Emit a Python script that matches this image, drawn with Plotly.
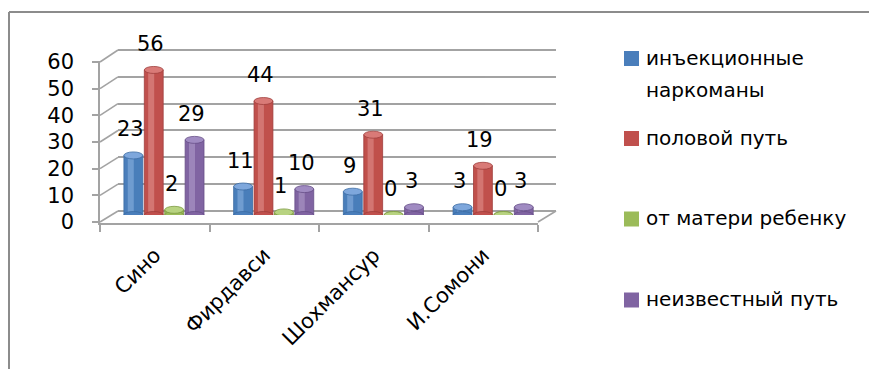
import plotly.graph_objects as go

# ---- data ----
districts = ["Сино", "Фирдавси", "Шохмансур", "И.Сомони"]
series_names = ["инъекционные наркоманы", "половой путь", "от матери ребенку", "неизвестный путь"]
injecting = [23, 11, 9, 3]
sexual = [56, 44, 31, 19]
mother_child = [2, 1, 0, 0]
unknown = [29, 10, 3, 3]
y_ticks = [0, 10, 20, 30, 40, 50, 60]

series_values = [injecting, sexual, mother_child, unknown]
body_colors = ["#4a7ebb", "#c0504d", "#9bbb59", "#8064a2"]
light_colors = ["#9dc0ea", "#eba3a1", "#cfe3a3", "#bfaed6"]
cap_colors = ["#7ea7dc", "#d97a77", "#b8d381", "#a08bc2"]
edge_colors = ["#3c6ca3", "#a03f3c", "#7f9c45", "#674f88"]

W, H = 869, 369
FONT = "DejaVu Sans"
GRID = "#a3a3a3"


def fx(x):
    return x / W


def fy(y):
    return 1 - y / H


def y_domain(px0, px60, lo, hi):
    """Vertical domain so that value 0 sits at px0 and 60 at px60 (pixels)."""
    k = (px0 - px60) / 60.0
    return [fy(px0 + (0 - lo) * k), fy(px60 - (hi - 60) * k)]


fig = go.Figure()

# back wall carrier (keeps the gridline subplot alive)
fig.add_trace(go.Scatter(x=[0.5], y=[30], mode="markers", marker=dict(opacity=0),
                         xaxis="x", yaxis="y", showlegend=False, hoverinfo="skip"))

# bars: body, then a narrow highlight strip to give a rounded look
centers = [(i - 1.5) * 0.186 for i in range(4)]
bar_w = 0.172
for i, vals in enumerate(series_values):
    fig.add_trace(go.Bar(
        x=districts, y=vals, name=series_names[i],
        offset=centers[i] - bar_w / 2, width=bar_w,
        marker=dict(color=body_colors[i], line=dict(color=edge_colors[i], width=0.8)),
        xaxis="x2", yaxis="y2", showlegend=False, hoverinfo="y",
    ))
for i, vals in enumerate(series_values):
    fig.add_trace(go.Bar(
        x=districts, y=vals,
        offset=centers[i] - bar_w / 2 + 0.035, width=0.055,
        marker=dict(color=light_colors[i], line=dict(width=0)), opacity=0.45,
        xaxis="x2", yaxis="y2", showlegend=False, hoverinfo="skip",
    ))

# front category axis carrier
fig.add_trace(go.Scatter(
    x=districts, y=[0] * len(districts), mode="markers",
    marker=dict(opacity=0), xaxis="x3", yaxis="y3",
    showlegend=False, hoverinfo="skip",
))

shapes = []
annotations = []

# cylinder caps (bottom and top ellipses)
for i, vals in enumerate(series_values):
    for j, v in enumerate(vals):
        x0 = j + centers[i] - bar_w / 2
        x1 = j + centers[i] + bar_w / 2
        shapes.append(dict(type="circle", xref="x2", yref="y2", x0=x0, x1=x1,
                           ysizemode="pixel", yanchor=0, y0=-3.5, y1=3.5,
                           fillcolor=body_colors[i], line=dict(color=edge_colors[i], width=0.8)))
        shapes.append(dict(type="circle", xref="x2", yref="y2", x0=x0, x1=x1,
                           ysizemode="pixel", yanchor=v, y0=-3.5, y1=3.5,
                           fillcolor=cap_colors[i], line=dict(color=edge_colors[i], width=0.8)))
        annotations.append(dict(x=j + centers[i], y=v, xref="x2", yref="y2",
                                text=str(v), showarrow=False, xshift=-3, yshift=26,
                                xanchor="center", yanchor="middle",
                                font=dict(family=FONT, size=21, color="#000000")))

# side wall edges joining the front value axis and the back wall
for t in y_ticks:
    front = 222 - t * 160 / 60
    back = 211 - t * 161 / 60
    shapes.append(dict(type="line", xref="paper", yref="paper",
                       x0=fx(100), y0=fy(front), x1=fx(118), y1=fy(back),
                       line=dict(color=GRID, width=1.6)))
# right floor edge
shapes.append(dict(type="line", xref="paper", yref="paper",
                   x0=fx(538), y0=fy(222), x1=fx(556), y1=fy(211),
                   line=dict(color=GRID, width=1.6)))

# outer frame (left and top)
shapes.append(dict(type="line", xref="paper", yref="paper",
                   x0=fx(9), y0=fy(12), x1=fx(9), y1=0,
                   line=dict(color="#8c8c8c", width=2)))
shapes.append(dict(type="line", xref="paper", yref="paper",
                   x0=fx(9), y0=fy(12), x1=1, y1=fy(12),
                   line=dict(color="#8c8c8c", width=2)))

# legend
legend_rows = [58.5, 138.5, 219, 300]
legend_lines = [["инъекционные", "наркоманы"], ["половой путь"],
                ["от матери ребенку"], ["неизвестный путь"]]
for i, yc in enumerate(legend_rows):
    shapes.append(dict(type="rect", xref="paper", yref="paper",
                       x0=fx(624), x1=fx(639), y0=fy(yc + 7.5), y1=fy(yc - 7.5),
                       fillcolor=body_colors[i], line=dict(width=0)))
    for k, line in enumerate(legend_lines[i]):
        annotations.append(dict(x=fx(644), y=fy(yc - 1 + k * 33), xref="paper", yref="paper",
                                text=line, showarrow=False, xanchor="left", yanchor="middle",
                                font=dict(family=FONT, size=20, color="#000000")))

fig.update_layout(
    template="none",
    width=W, height=H, autosize=False,
    margin=dict(l=0, r=0, t=0, b=0, pad=0, autoexpand=False),
    paper_bgcolor="white", plot_bgcolor="rgba(0,0,0,0)",
    barmode="overlay", showlegend=False,
    font=dict(family=FONT, size=20, color="#000000"),
    shapes=shapes, annotations=annotations,
    # back wall with gridlines
    xaxis=dict(domain=[fx(118), fx(556)], range=[0, 1], showgrid=False, zeroline=False,
               showline=False, showticklabels=False, ticks="", automargin=False),
    yaxis=dict(domain=y_domain(211, 50, -0.5, 60.5), range=[-0.5, 60.5], anchor="x",
               tickvals=y_ticks, showticklabels=False, ticks="",
               showgrid=True, gridcolor=GRID, gridwidth=1.6,
               zeroline=False, showline=False, automargin=False),
    # bars
    xaxis2=dict(domain=[fx(109.1), fx(548)], type="category", range=[-0.5, 3.5],
                visible=False, anchor="y2", automargin=False),
    yaxis2=dict(domain=y_domain(215, 59.6, 0, 60), range=[0, 60], visible=False,
                anchor="x2", automargin=False),
    # front axes
    xaxis3=dict(domain=[fx(100), fx(538)], type="category", range=[-0.5, 3.5], anchor="y3",
                tickson="boundaries", ticks="outside", ticklen=7, tickcolor=GRID, tickwidth=1.6,
                showline=True, linecolor=GRID, linewidth=1.6, showgrid=False, zeroline=False,
                tickangle=-45, automargin=False, ticklabelstandoff=10,
                tickfont=dict(family=FONT, size=21, color="#000000")),
    yaxis3=dict(domain=y_domain(222, 62, -0.3, 60.3), range=[-0.3, 60.3], anchor="x3",
                tickvals=y_ticks, ticks="outside", ticklen=6, tickcolor=GRID, tickwidth=1.6,
                showline=True, linecolor=GRID, linewidth=1.6, showgrid=False, zeroline=False,
                ticklabelstandoff=14, automargin=False,
                tickfont=dict(family=FONT, size=21, color="#000000")),
)

fig.write_html("out.html")
